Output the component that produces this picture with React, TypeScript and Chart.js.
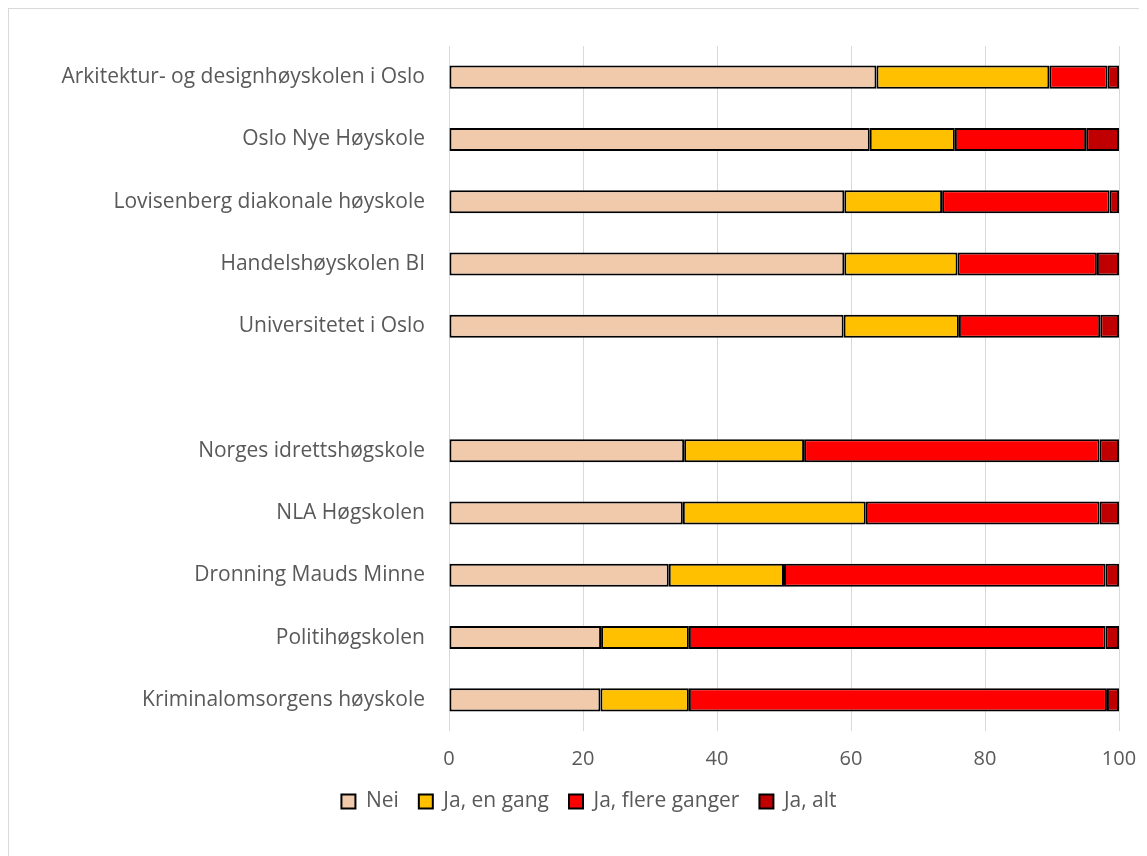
import React, { useEffect, useRef } from "react";
import { Chart, registerables } from "chart.js";

Chart.register(...registerables);

const categories = [
  "Arkitektur- og designhøyskolen i Oslo",
  "Oslo Nye Høyskole",
  "Lovisenberg diakonale høyskole",
  "Handelshøyskolen BI",
  "Universitetet i Oslo",
  "",
  "Norges idrettshøgskole",
  "NLA Høgskolen",
  "Dronning Mauds Minne",
  "Politihøgskolen",
  "Kriminalomsorgens høyskole",
];

const nei = [63.8, 62.8, 59.0, 59.0, 58.9, null, 35.1, 34.9, 32.8, 22.7, 22.6];
const jaEnGang = [25.8, 12.7, 14.6, 16.9, 17.2, null, 17.9, 27.3, 17.2, 13.1, 13.2];
const jaFlereGanger = [8.7, 19.6, 25.0, 20.8, 21.1, null, 44.1, 34.9, 48.0, 62.2, 62.4];
const jaAlt = [1.7, 4.9, 1.4, 3.3, 2.8, null, 2.9, 2.9, 2.0, 2.0, 1.8];

const seriesNames = ["Nei", "Ja, en gang", "Ja, flere ganger", "Ja, alt"];
const seriesColors = ["#F1CAAC", "#FFC000", "#FF0000", "#C00000"];
const xTicks = [0, 20, 40, 60, 80, 100];

const FONT = "'Open Sans', sans-serif";
const TEXT = "#595959";

export default function App() {
  const ref = useRef<HTMLCanvasElement | null>(null);

  useEffect(() => {
    if (!ref.current) return;
    const values = [nei, jaEnGang, jaFlereGanger, jaAlt];
    const chart = new Chart(ref.current, {
      type: "bar",
      data: {
        labels: categories,
        datasets: values.map((v, i) => ({
          label: seriesNames[i],
          data: v,
          backgroundColor: seriesColors[i],
          borderColor: "#000000",
          borderWidth: 2,
          borderSkipped: false,
          categoryPercentage: 1,
          barPercentage: 0.37,
        })),
      },
      options: {
        indexAxis: "y",
        responsive: false,
        animation: false,
        layout: { padding: { left: 50, top: 37, right: 28, bottom: 34 } },
        plugins: {
          tooltip: { enabled: false },
          legend: {
            position: "bottom",
            labels: {
              font: { family: FONT, size: 21 },
              color: TEXT,
              boxWidth: 14,
              boxHeight: 14,
              padding: 20,
            },
          },
        },
        scales: {
          x: {
            stacked: true,
            min: 0,
            max: 100,
            afterBuildTicks: (scale: any) => {
              scale.ticks = xTicks.map((v) => ({ value: v }));
            },
            afterFit: (scale: any) => {
              scale.height = 40;
            },
            border: { display: false },
            grid: { color: "#D9D9D9", lineWidth: 1, drawTicks: false },
            ticks: {
              font: { family: FONT, size: 20, lineHeight: 2.4 },
              color: TEXT,
              padding: 4,
              maxRotation: 0,
            },
          },
          y: {
            stacked: true,
            afterFit: (scale: any) => {
              scale.width = 390;
            },
            border: { display: false },
            grid: { display: false, drawTicks: false },
            ticks: {
              font: { family: FONT, size: 21 },
              color: TEXT,
              padding: 24,
              autoSkip: false,
            },
          },
        },
      },
    });
    return () => chart.destroy();
  }, []);

  return (
    <div
      style={{
        position: "relative",
        width: 1139,
        height: 848,
        borderTop: "1px solid #D9D9D9",
        borderLeft: "1px solid #D9D9D9",
        boxSizing: "border-box",
        background: "#fff",
      }}
    >
      <canvas ref={ref} width={1138} height={847} style={{ display: "block" }} />
    </div>
  );
}
